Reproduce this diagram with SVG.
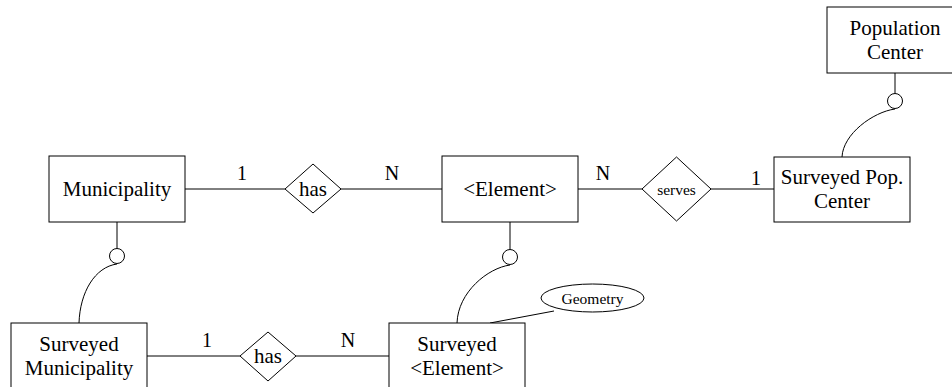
<svg xmlns="http://www.w3.org/2000/svg" width="952" height="387" viewBox="0 0 952 387">
  <style>
    .box { fill: #fff; stroke: #000; stroke-width: 1; }
    .rel { fill: #fff; stroke: #000; stroke-width: 1; }
    .line { fill: none; stroke: #000; stroke-width: 1; }
    .circ { fill: #fff; stroke: #000; stroke-width: 1; }
    text { font-family: "Liberation Serif", "DejaVu Serif", serif; fill: #000; text-anchor: middle; }
    .lbl { font-size: 21px; }
    .card { font-size: 20px; }
    .small { font-size: 15.5px; }
  </style>
  <rect width="952" height="387" fill="#fff"/>

  <g id="connectors">
    <!-- relationship lines -->
    <line class="line" x1="185" y1="189" x2="285" y2="189"/>
    <line class="line" x1="341" y1="189" x2="442" y2="189"/>
    <line class="line" x1="578" y1="189" x2="642" y2="189"/>
    <line class="line" x1="711" y1="189" x2="774" y2="189"/>
    <line class="line" x1="147" y1="356" x2="240" y2="356"/>
    <line class="line" x1="296" y1="356" x2="389" y2="356"/>
    <!-- subtype links: stub, circle, curve -->
    <line class="line" x1="117" y1="222" x2="117" y2="248.5"/>
    <path class="line" d="M117,264 C95,267 80,292 79,323"/>
    <line class="line" x1="510" y1="222" x2="510" y2="249.5"/>
    <path class="line" d="M510,265 C488,268 458,292 457,323"/>
    <line class="line" x1="895" y1="73" x2="895" y2="93.5"/>
    <path class="line" d="M895,109 C873,112 843,134 842,157"/>
    <!-- attribute link -->
    <line class="line" x1="490" y1="323" x2="554" y2="311"/>
    <circle class="circ" cx="117" cy="256" r="7.5"/>
    <circle class="circ" cx="510" cy="257" r="7.5"/>
    <circle class="circ" cx="895" cy="101" r="7.5"/>
    <!-- cardinalities -->
    <text class="card" x="242" y="180">1</text>
    <text class="card" x="392" y="180">N</text>
    <text class="card" x="603" y="180">N</text>
    <text class="card" x="756" y="185">1</text>
    <text class="card" x="207" y="347">1</text>
    <text class="card" x="348" y="347">N</text>
  </g>

  <g id="municipality">
    <rect class="box" x="49" y="156" width="136" height="66"/>
    <text class="lbl" x="117" y="196">Municipality</text>
  </g>

  <g id="has-top">
    <polygon class="rel" points="285,189 313,164 341,189 313,213"/>
    <text class="lbl" x="313" y="196">has</text>
  </g>

  <g id="element">
    <rect class="box" x="442" y="156" width="136" height="66"/>
    <text class="lbl" x="510" y="196">&lt;Element&gt;</text>
  </g>

  <g id="serves">
    <polygon class="rel" points="642,189 676.5,157 711,189 676.5,221"/>
    <text class="small" x="676.5" y="194.5">serves</text>
  </g>

  <g id="surveyed-pop-center">
    <rect class="box" x="774" y="157" width="136" height="65"/>
    <text class="lbl" x="842" y="184">Surveyed Pop.</text>
    <text class="lbl" x="842" y="208">Center</text>
  </g>

  <g id="population-center">
    <rect class="box" x="827" y="7" width="136" height="66"/>
    <text class="lbl" x="895" y="35">Population</text>
    <text class="lbl" x="895" y="59">Center</text>
  </g>

  <g id="surveyed-municipality">
    <rect class="box" x="11" y="323" width="136" height="66"/>
    <text class="lbl" x="79" y="351">Surveyed</text>
    <text class="lbl" x="79" y="375">Municipality</text>
  </g>

  <g id="has-bottom">
    <polygon class="rel" points="240,356 268,332 296,356 268,381"/>
    <text class="lbl" x="268" y="363">has</text>
  </g>

  <g id="surveyed-element">
    <rect class="box" x="389" y="323" width="136" height="66"/>
    <text class="lbl" x="457" y="351">Surveyed</text>
    <text class="lbl" x="457" y="375">&lt;Element&gt;</text>
  </g>

  <g id="geometry">
    <ellipse class="box" cx="592.5" cy="298" rx="51.5" ry="14"/>
    <text class="small" x="592.5" y="303.5">Geometry</text>
  </g>
</svg>
